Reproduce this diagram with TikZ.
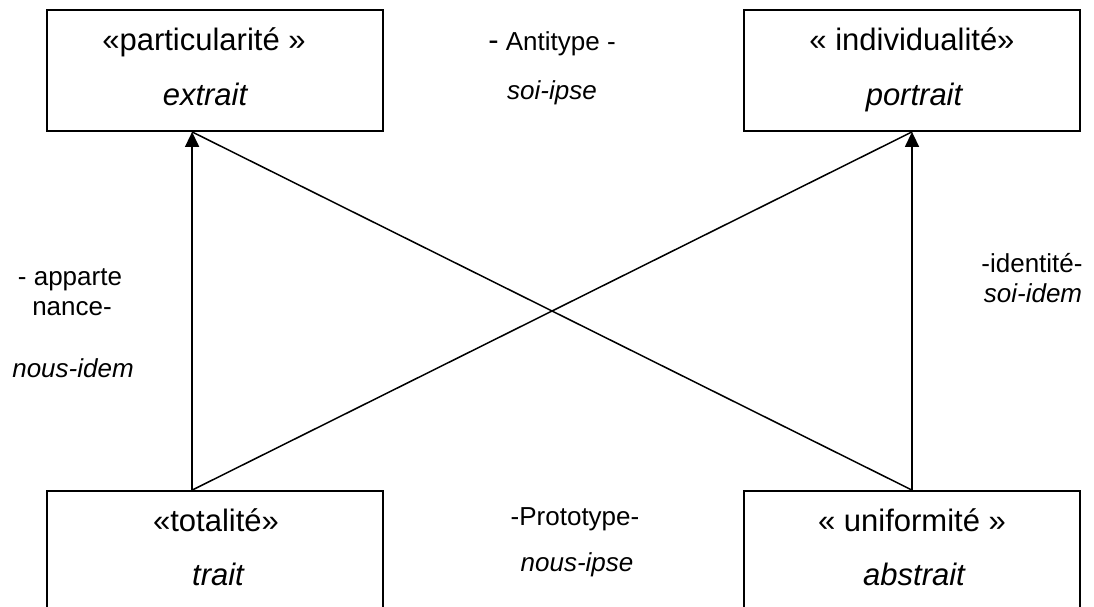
\documentclass[tikz,border=0pt]{standalone}
\usepackage{fontspec}
\setmainfont{Liberation Sans}
\usetikzlibrary{arrows.meta,calc}
\begin{document}
\begin{tikzpicture}[x=1pt,y=-1pt,
  box/.style={draw, line width=1.8pt, minimum width=336pt, minimum height=121pt, inner sep=0pt},
  boxtxt/.style={anchor=base, inner sep=0pt, font=\fontsize{31}{36}\selectfont},
  lbl/.style={anchor=base, inner sep=0pt, font=\fontsize{26}{31}\selectfont},
  conn/.style={line width=1.5pt},
  arr/.style={conn, -{Triangle[length=15pt,width=14pt]}}]
\useasboundingbox (0,0) rectangle (1094,606);
\clip (0,0) rectangle (1094,606);
% boxes
\node[box] (tl) at (215,70.5) {};
\node[box] (tr) at (912,70.5) {};
\node[box] (bl) at (215,551.5) {};
\node[box] (br) at (912,551.5) {};
\coordinate (tlA) at ($(tl.south west)+(146,0)$);
\coordinate (blA) at ($(bl.north west)+(146,0)$);
% box texts
\node[boxtxt] (tl1) at (204,50) {«particularité »};
\node[boxtxt] (tl2) at (205,105) {\itshape extrait};
\node[boxtxt] (tr1) at (912,50) {« individualité»};
\node[boxtxt] (tr2) at (914,105) {\itshape portrait};
\node[boxtxt] (bl1) at (216,531) {«totalité»};
\node[boxtxt] (bl2) at (218,585) {\itshape trait};
\node[boxtxt] (br1) at (912,531) {« uniformité »};
\node[boxtxt] (br2) at (914,585) {\itshape abstrait};
% labels
\node[lbl] (anti) at (552,50) {{\fontsize{31}{36}\selectfont -} Antitype -};
\node[lbl] (ipse1) at (552,99) {\itshape soi-ipse};
\node[lbl] (proto) at (575,525) {-Prototype-};
\node[lbl] (ipse2) at (577,571) {\itshape nous-ipse};
\node[lbl] (app1) at (70,285) {- apparte};
\node[lbl] (app2) at (72,315) {nance-};
\node[lbl] (idem1) at (73,377) {\itshape nous-idem};
\node[lbl] (id1) at (1032,272) {-identité-};
\node[lbl] (id2) at (1033,302) {\itshape soi-idem};
% connectors
\draw[arr] (blA) -- (tlA);
\draw[arr] (br.north) -- (tr.south);
\draw[conn] (blA) -- (tr.south);
\draw[conn] (tlA) -- (br.north);
\end{tikzpicture}
\end{document}
